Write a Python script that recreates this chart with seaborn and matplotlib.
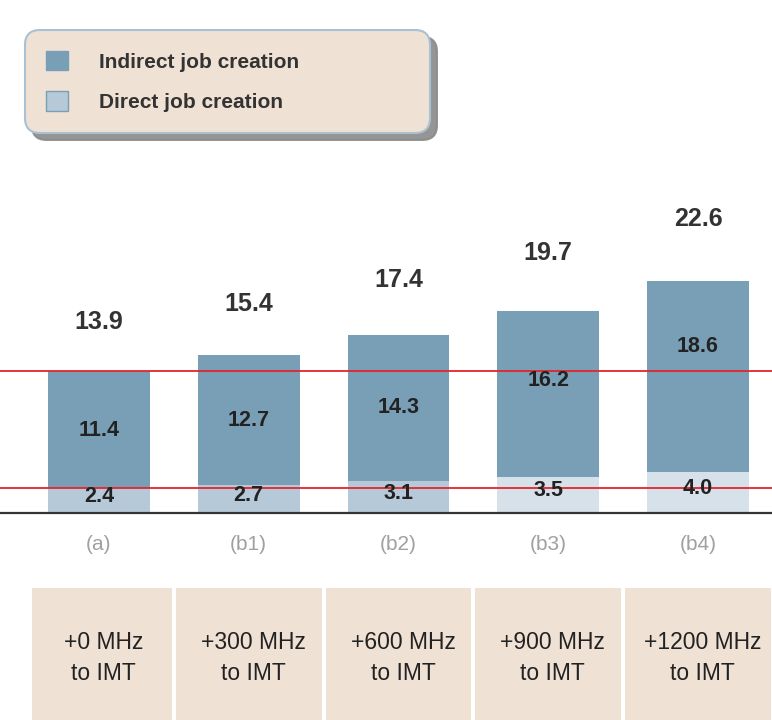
import matplotlib
matplotlib.use('Agg')
import matplotlib.pyplot as plt
import matplotlib.transforms as mtransforms
from matplotlib.patches import Patch, Rectangle
import seaborn as sns
import pandas as pd

# values (millions of jobs)
scenarios = ['(a)', '(b1)', '(b2)', '(b3)', '(b4)']
spectrum = ['+0 MHz\nto IMT', '+300 MHz\nto IMT', '+600 MHz\nto IMT',
            '+900 MHz\nto IMT', '+1200 MHz\nto IMT']
direct = [2.4, 2.7, 3.1, 3.5, 4.0]
indirect = [11.4, 12.7, 14.3, 16.2, 18.6]
total = [13.9, 15.4, 17.4, 19.7, 22.6]

INDIRECT = '#789fb5'
DIRECT = ['#b6c9d9', '#b6c9d9', '#b6c9d9', '#d6e1ea', '#d6e1ea']
BEIGE = '#f0e1d5'
RED = '#e3242b'

sns.set_style('white')
plt.rcParams['font.family'] = ['Liberation Sans', 'DejaVu Sans']

df = pd.DataFrame({'scenario': scenarios, 'direct': direct,
                   'indirect': indirect, 'total': total})

fig = plt.figure(figsize=(7.72, 7.2), dpi=100)
ax = fig.add_axes([0, 0.2875, 1, 0.4625])

# full bar first (indirect colour), direct part drawn over it
sns.barplot(data=df, x='scenario', y='total', color=INDIRECT, width=0.68,
            saturation=1, errorbar=None, linewidth=0, ax=ax)
sns.barplot(data=df, x='scenario', y='direct', hue='scenario', palette=DIRECT,
            width=0.68, saturation=1, errorbar=None, linewidth=0, dodge=False,
            legend=False, ax=ax)

# reference lines at the (a) levels
ax.axhline(total[0], color=RED, lw=1.3, zorder=5)
ax.axhline(direct[0], color=RED, lw=1.3, zorder=5)

ax.set_xlim(-0.661, 4.494)
ax.set_ylim(0, 32.5)
ax.set_xlabel('')
ax.set_ylabel('')
ax.set_yticks([])
ax.tick_params(axis='x', length=0, pad=16, labelsize=15, labelcolor='#a0a0a0')
for s in ['left', 'right', 'top']:
    ax.spines[s].set_visible(False)
ax.spines['bottom'].set_color('#333333')
ax.spines['bottom'].set_linewidth(1.6)

label_frac = [0.5, 0.5, 0.5, 0.58, 0.66]
for i in range(len(scenarios)):
    ax.text(i, total[i] * 1.15 + 2.7, f'{total[i]:.1f}', ha='center', va='center',
            fontsize=18, fontweight='bold', color='#333333')
    ax.text(i, direct[i] + indirect[i] * label_frac[i], f'{indirect[i]:.1f}',
            ha='center', va='center', fontsize=15.5, fontweight='bold', color='#222222',
            zorder=6)
    ax.text(i, direct[i] / 2 + 0.4, f'{direct[i]:.1f}', ha='center', va='center',
            fontsize=15.5, fontweight='bold', color='#222222', zorder=6)

# spectrum boxes under the chart
blend = mtransforms.blended_transform_factory(ax.transData, fig.transFigure)
for i, txt in enumerate(spectrum):
    left = max(i - 0.487, -0.45)
    right = i + 0.487
    ax.add_patch(Rectangle((left, 0), right - left, 1 - 588 / 720, transform=blend,
                           facecolor=BEIGE, edgecolor='none', clip_on=False))
    ax.text(i + 0.03, 1 - 658 / 720, txt, transform=blend, ha='center', va='center',
            fontsize=16.5, color='#222222', linespacing=1.45)

handles = [Patch(facecolor=INDIRECT, edgecolor=INDIRECT),
           Patch(facecolor=DIRECT[0], edgecolor=INDIRECT, linewidth=1)]
leg = fig.legend(handles, ['Indirect job creation', 'Direct job creation'],
                 loc='upper left', bbox_to_anchor=(25 / 772, 1 - 128 / 720, 405 / 772, 98 / 720),
                 mode='expand', ncol=1, borderaxespad=0, borderpad=1.0,
                 labelspacing=0.95, handlelength=1.05, handleheight=1.05,
                 handletextpad=1.5, fontsize=15, frameon=True, fancybox=True,
                 shadow={'ox': 5, 'oy': -5, 'color': '#8a8a8a', 'alpha': 0.9})
for t in leg.get_texts():
    t.set_fontweight('bold')
    t.set_color('#333333')
frame = leg.get_frame()
frame.set_facecolor(BEIGE)
frame.set_edgecolor('#a9c1d3')
frame.set_linewidth(1.5)
frame.set_alpha(1)
frame.set_boxstyle('round', pad=0, rounding_size=0.7)

fig.savefig('out.png', dpi=100, facecolor='white')
